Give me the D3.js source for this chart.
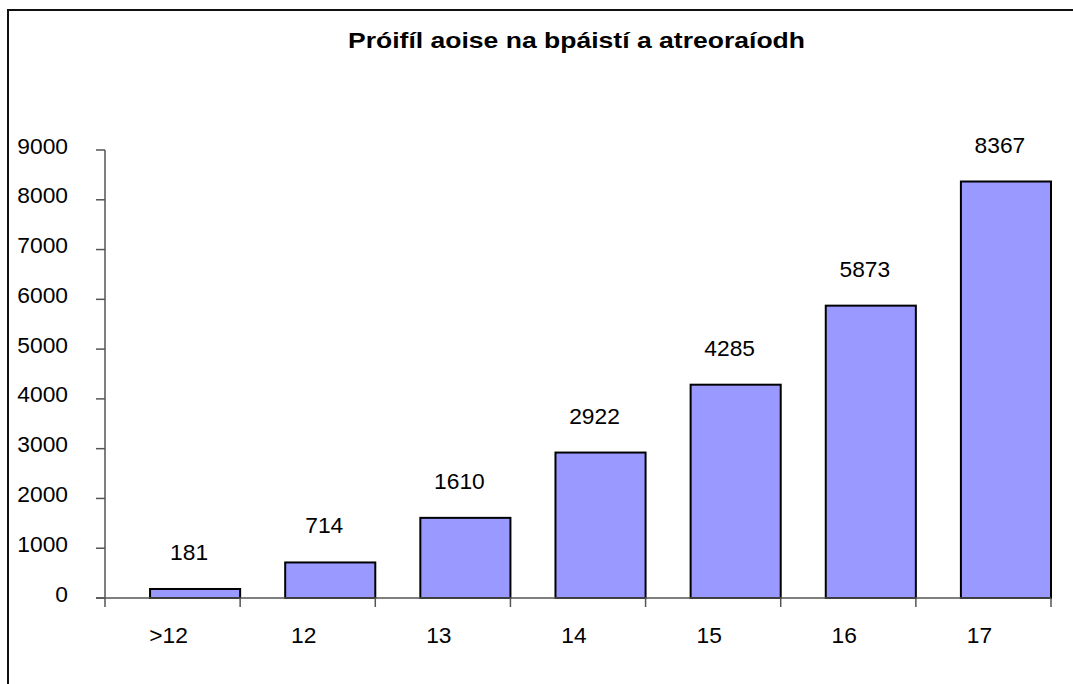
<!DOCTYPE html>
<html><head><meta charset="utf-8">
<script src="https://cdn.jsdelivr.net/npm/d3@7"></script>
<style>body{margin:0;background:#fff}svg{display:block}text{font-family:"Liberation Sans",Arial,sans-serif;fill:#000}</style>
</head><body>
<svg id="c" width="1073" height="684"></svg>
<script>
const title = "Próifíl aoise na bpáistí a atreoraíodh";
const categories = [">12","12","13","14","15","16","17"];
const values = [181,714,1610,2922,4285,5873,8367];
const yTicks = [0,1000,2000,3000,4000,5000,6000,7000,8000,9000];

const svg = d3.select("#c");
const fs = 21.5;
const sx = 1.06;
// frame
svg.append("rect").attr("x",8).attr("y",10).attr("width",1100).attr("height",700)
  .attr("fill","none").attr("stroke","#111").attr("stroke-width",2);

svg.append("text").attr("x",348).attr("y",48)
  .attr("textLength",457).attr("lengthAdjust","spacingAndGlyphs")
  .style("font-size","21.5px").style("font-weight","bold").text(title);

const x = d3.scaleBand().domain(categories).range([105,1051]).padding(0);
const y = d3.scaleLinear().domain([0,9000]).range([598,150]);
const bw = x.bandwidth()*90/135;

function lbl(sel, anchor){
  return sel.attr("text-anchor",anchor).style("font-size",fs+"px");
}

// y axis
const ya = svg.append("g");
ya.append("line").attr("x1",105).attr("x2",105).attr("y1",y(9000)).attr("y2",607).attr("stroke","#555").attr("stroke-width",1.5);
ya.selectAll("line.t").data(yTicks).join("line").attr("class","t")
  .attr("x1",96).attr("x2",105).attr("y1",d=>y(d)).attr("y2",d=>y(d)).attr("stroke","#555").attr("stroke-width",1.5);
lbl(ya.selectAll("text").data(yTicks).join("text")
  .attr("transform",d=>`translate(68,${y(d)+3.5}) scale(${sx},1)`), "end").text(d=>d);

// bars
svg.selectAll("rect.bar").data(values).join("rect").attr("class","bar")
  .attr("x",(d,i)=>x(categories[i])+x.bandwidth()-bw).attr("width",bw)
  .attr("y",d=>y(d)).attr("height",d=>y(0)-y(d))
  .attr("fill","#9999FF").attr("stroke","#000").attr("stroke-width",2);

// x axis
const xa = svg.append("g");
xa.append("line").attr("x1",96).attr("x2",1051).attr("y1",598).attr("y2",598).attr("stroke","#555").attr("stroke-width",1.5);
xa.selectAll("line.t").data(categories).join("line").attr("class","t")
  .attr("x1",d=>x(d)+x.bandwidth()).attr("x2",d=>x(d)+x.bandwidth()).attr("y1",598).attr("y2",607).attr("stroke","#555").attr("stroke-width",1.5);
lbl(xa.selectAll("text").data(categories).join("text")
  .attr("transform",d=>`translate(${x(d)+x.bandwidth()/2-4},643) scale(${sx},1)`), "middle").text(d=>d);

// value labels
lbl(svg.selectAll("text.val").data(values).join("text").attr("class","val")
  .attr("transform",(d,i)=>`translate(${x(categories[i])+x.bandwidth()-bw/2-6},${y(d)-29}) scale(${sx},1)`), "middle").text(d=>d);
</script>
</body></html>
